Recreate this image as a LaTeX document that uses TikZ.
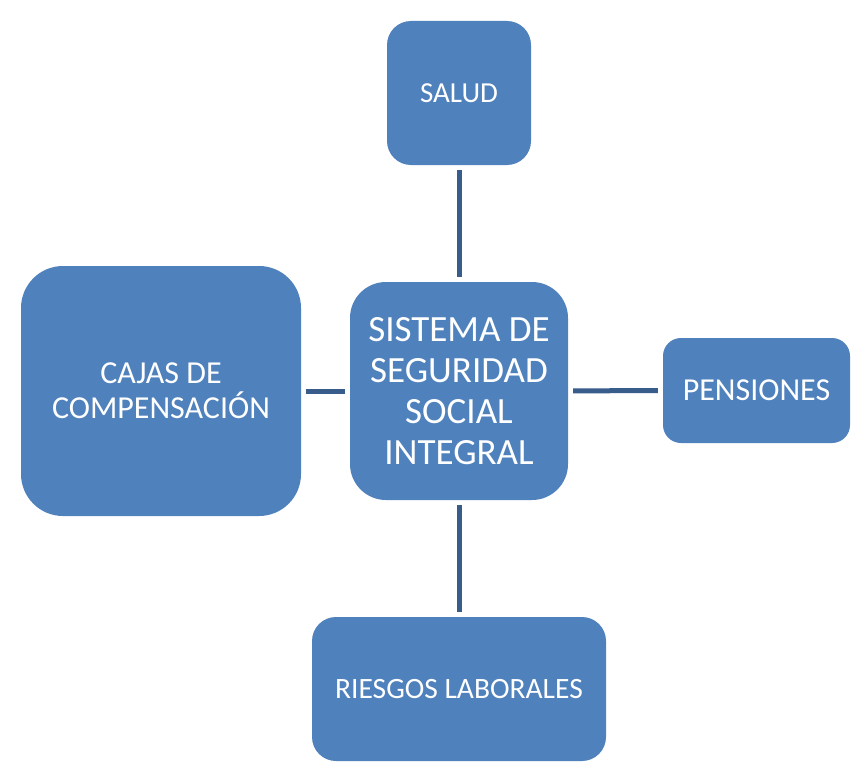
\documentclass[tikz,border=0pt]{standalone}
\usepackage{fontspec}
\setmainfont{Carlito}
\usetikzlibrary{positioning}
\definecolor{boxfill}{RGB}{79,129,189}
\definecolor{linkline}{RGB}{56,93,138}

\begin{document}
\begin{tikzpicture}[x=1pt, y=-1pt,
  area/.style={rectangle, fill=boxfill, text=white, align=center, inner sep=0pt},
  link/.style={line width=5pt, linkline, shorten <=5pt, shorten >=5pt}]
  \useasboundingbox[fill=white] (0,0) rectangle (865,768);
  % central system
  \node[area, minimum width=218pt, minimum height=218pt, rounded corners=36pt,
        font=\fontsize{37}{41}\selectfont] (sistema) at (459,391)
        {SISTEMA DE\\SEGURIDAD\\SOCIAL\\INTEGRAL};
  % the four branches
  \node[area, minimum width=144pt, minimum height=144pt, rounded corners=24pt,
        font=\fontsize{29}{32}\selectfont] (salud) at (459,93) {SALUD};
  \node[area, minimum width=187pt, minimum height=105pt, rounded corners=18pt,
        font=\fontsize{32}{34}\selectfont] (pensiones) at (756.5,390.5) {PENSIONES};
  \node[area, minimum width=280pt, minimum height=250pt, rounded corners=42pt,
        font=\fontsize{32}{35}\selectfont] (cajas) at (161,391) {CAJAS DE\\COMPENSACIÓN};
  \node[area, minimum width=294pt, minimum height=144pt, rounded corners=24pt,
        font=\fontsize{29.5}{32}\selectfont] (riesgos) at (459,689) {RIESGOS LABORALES};
  \draw[link] (sistema) -- (salud);
  \draw[link] (sistema) -- (riesgos);
  \draw[link] (sistema) -- (cajas);
  \draw[link] (sistema) -- (pensiones);
\end{tikzpicture}
\end{document}
